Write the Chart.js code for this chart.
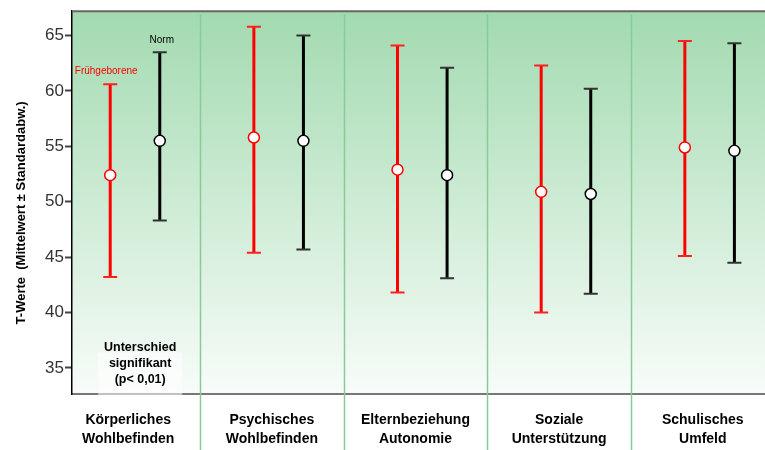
<!DOCTYPE html>
<html>
<head>
<meta charset="utf-8">
<script src="https://cdn.jsdelivr.net/npm/chart.js@4"></script>
<style>
  html, body { margin: 0; padding: 0; background: #fff; overflow: hidden; }
  canvas { display: block; }
</style>
</head>
<body>
<canvas id="tchart" width="765" height="450"></canvas>
<script>
// T-Werte je Bereich, Frühgeborene vs. Norm (Mittelwert +/- Standardabw.)
const categories = [
  ['Körperliches', 'Wohlbefinden'],
  ['Psychisches', 'Wohlbefinden'],
  ['Elternbeziehung', 'Autonomie'],
  ['Soziale', 'Unterstützung'],
  ['Schulisches', 'Umfeld']
];
const pretermMean = [52.4, 55.8, 52.9, 50.9, 54.9];
const pretermLow  = [43.2, 45.4, 41.8, 40.0, 45.1];
const pretermHigh = [60.6, 65.8, 64.1, 62.3, 64.5];
const normMean = [55.5, 55.5, 52.4, 50.7, 54.6];
const normLow  = [48.3, 45.7, 43.1, 41.7, 44.5];
const normHigh = [63.5, 65.0, 62.1, 60.2, 64.3];
const yTicks = [35, 40, 45, 50, 55, 60, 65];
const yTitle = 'T-Werte  (Mittelwert ± Standardabw.)';

const RED_SHIFT = -0.125;
const BLACK_SHIFT = 0.22;

const toPoints = (vals, shift) => vals.map((v, i) => ({ x: i + shift, y: v }));

// background gradient + column separators + error bars (drawn under the points)
const decor = {
  id: 'decor',
  beforeDraw(chart) {
    const { ctx, chartArea: a } = chart;
    const g = ctx.createLinearGradient(0, a.top, 0, a.bottom);
    g.addColorStop(0, '#a2dab0');
    g.addColorStop(1, '#f8fcf9');
    ctx.save();
    ctx.fillStyle = g;
    ctx.fillRect(a.left, a.top, a.right - a.left, a.bottom - a.top);
    ctx.restore();
  },
  beforeDatasetsDraw(chart) {
    const { ctx, chartArea: a, scales: { x, y } } = chart;
    ctx.save();
    // top frame line
    ctx.strokeStyle = '#666';
    ctx.lineWidth = 2;
    ctx.beginPath();
    ctx.moveTo(a.left, a.top);
    ctx.lineTo(a.right, a.top);
    ctx.stroke();
    // separators between categories
    ctx.strokeStyle = '#86cc97';
    ctx.lineWidth = 1.5;
    for (let i = 0; i < categories.length - 1; i++) {
      const px = Math.round(x.getPixelForValue(i + 0.5)) + 0.5;
      ctx.beginPath();
      ctx.moveTo(px, a.top + 3);
      ctx.lineTo(px, chart.height);
      ctx.stroke();
    }
    // error bars
    const bars = [
      { lo: pretermLow, hi: pretermHigh, shift: RED_SHIFT, color: '#ff0000', cap: '#ff2020' },
      { lo: normLow, hi: normHigh, shift: BLACK_SHIFT, color: '#000000', cap: '#333333' }
    ];
    bars.forEach(b => {
      b.lo.forEach((lo, i) => {
        const px = x.getPixelForValue(i + b.shift);
        const y1 = y.getPixelForValue(lo);
        const y2 = y.getPixelForValue(b.hi[i]);
        ctx.strokeStyle = b.color;
        ctx.lineWidth = 3;
        ctx.beginPath();
        ctx.moveTo(px, y1);
        ctx.lineTo(px, y2);
        ctx.stroke();
        ctx.strokeStyle = b.cap;
        ctx.lineWidth = 2;
        ctx.beginPath();
        ctx.moveTo(px - 7, y1);
        ctx.lineTo(px + 7, y1);
        ctx.moveTo(px - 7, y2);
        ctx.lineTo(px + 7, y2);
        ctx.stroke();
      });
    });
    ctx.restore();
  },
  afterDraw(chart) {
    const { ctx, scales: { x, y } } = chart;
    ctx.save();
    ctx.textAlign = 'center';
    ctx.textBaseline = 'middle';
    ctx.font = '10px "Liberation Sans", Arial, sans-serif';
    ctx.fillStyle = '#ff0000';
    ctx.fillText('Frühgeborene', x.getPixelForValue(RED_SHIFT) - 4, y.getPixelForValue(pretermHigh[0]) - 13);
    ctx.fillStyle = '#000';
    ctx.fillText('Norm', x.getPixelForValue(BLACK_SHIFT) + 2, y.getPixelForValue(normHigh[0]) - 12);

    const cx = x.getPixelForValue(0) + 12;
    const note = ['Unterschied', 'signifikant', '(p< 0,01)'];
    ctx.fillStyle = 'rgba(255,255,255,0.55)';
    ctx.fillRect(cx - 42, y.getPixelForValue(36.4), 84, 46);
    ctx.fillStyle = '#000';
    ctx.font = 'bold 12.5px "Liberation Sans", Arial, sans-serif';
    note.forEach((t, k) => ctx.fillText(t, cx, y.getPixelForValue(35.0) - 20 + k * 16));

    // y axis title, sits a bit below the middle of the axis like the original
    ctx.translate(21, y.getPixelForValue(49.0));
    ctx.rotate(-Math.PI / 2);
    ctx.font = 'bold 13px "Liberation Sans", Arial, sans-serif';
    ctx.fillText(yTitle, 0, 0);
    ctx.restore();
  }
};

new Chart(document.getElementById('tchart'), {
  type: 'line',
  data: {
    datasets: [{
      label: 'Frühgeborene',
      data: toPoints(pretermMean, RED_SHIFT),
      showLine: false,
      pointRadius: 5.5,
      pointBorderWidth: 1.5,
      pointBackgroundColor: '#fff',
      pointBorderColor: '#ff0000'
    }, {
      label: 'Norm',
      data: toPoints(normMean, BLACK_SHIFT),
      showLine: false,
      pointRadius: 5.5,
      pointBorderWidth: 1.5,
      pointBackgroundColor: '#fff',
      pointBorderColor: '#000'
    }]
  },
  options: {
    responsive: false,
    animation: false,
    layout: { autoPadding: false, padding: { top: 10, right: 0, left: 0, bottom: 0 } },
    plugins: {
      legend: { display: false },
      tooltip: { enabled: false }
    },
    scales: {
      x: {
        type: 'linear',
        min: -0.391,
        max: 4.433,
        afterBuildTicks: s => { s.ticks = categories.map((c, i) => ({ value: i })); },
        afterFit: s => { s.height = 56; s.paddingRight = 0; s.paddingLeft = 0; },
        grid: { drawOnChartArea: false, drawTicks: false },
        border: { color: '#777', width: 2 },
        ticks: {
          padding: 17,
          maxRotation: 0,
          autoSkip: false,
          color: '#000',
          font: { family: '"Liberation Sans", Arial, sans-serif', size: 14, weight: 'bold', lineHeight: 1.36 },
          callback: v => categories[v]
        }
      },
      y: {
        min: 32.65,
        max: 67.2,
        afterBuildTicks: s => { s.ticks = yTicks.map(v => ({ value: v })); },
        afterFit: s => { s.width = 72; },
        grid: { drawOnChartArea: false, drawTicks: true, tickLength: 7, tickWidth: 2, tickColor: '#444' },
        border: { color: '#000', width: 1.5 },
        ticks: {
          padding: 1,
          color: '#333',
          font: { family: '"Liberation Sans Narrow", "Liberation Sans", Arial, sans-serif', size: 17 }
        }
      }
    }
  },
  plugins: [decor]
});
</script>
</body>
</html>
